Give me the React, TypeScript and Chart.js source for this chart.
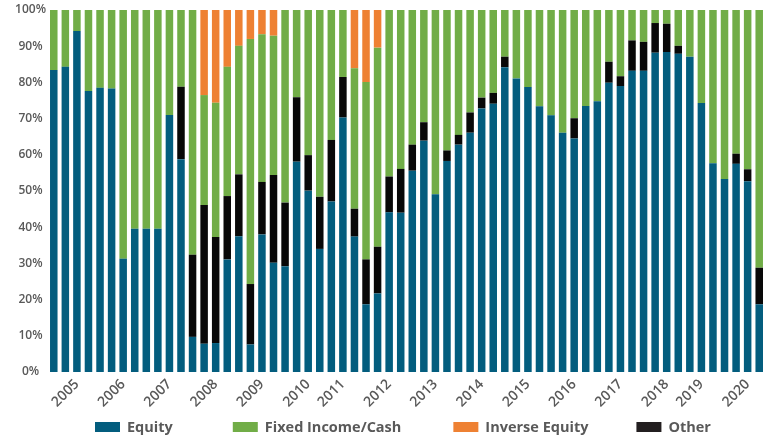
import React, { useEffect, useRef } from "react";
import { Chart, registerables } from "chart.js";

Chart.register(...registerables);

// Year tick labels and the bar index at which each one sits
const yearLabels = ["2005","2006","2007","2008","2009","2010","2011","2012","2013","2014","2015","2016","2017","2018","2019","2020"];
const yearTickIndex = [2, 6, 10, 14, 18, 22, 25, 29, 33, 37, 41, 45, 49, 53, 56, 60];

const equity = [
  83.4, 84.3, 94.2, 77.6, 78.5, 78.3, 31.3, 39.6, 39.6, 39.6,
  71.0, 58.8, 9.7, 7.8, 8.0, 31.1, 37.5, 7.6, 38.0, 30.2,
  29.2, 58.1, 50.1, 34.0, 47.1, 70.3, 37.4, 18.7, 21.7, 44.1,
  44.0, 55.6, 63.9, 49.1, 58.3, 62.8, 66.1, 72.8, 74.1, 84.2,
  81.1, 78.7, 73.4, 70.9, 66.1, 64.5, 73.5, 74.8, 79.9, 79.0,
  83.2, 83.2, 88.2, 88.4, 87.9, 87.1, 74.3, 57.7, 53.3, 57.5,
  52.7, 18.7,
];
const other = [
  0, 0, 0, 0, 0, 0, 0, 0, 0, 0,
  0, 20.0, 22.7, 38.3, 29.3, 17.5, 17.1, 16.7, 14.5, 24.2,
  17.6, 17.8, 9.8, 14.4, 17.0, 11.2, 7.7, 12.4, 12.9, 9.9,
  12.1, 7.2, 5.1, 0, 2.9, 2.7, 5.6, 3.0, 3.0, 2.9,
  0, 0, 0, 0, 0, 5.6, 0, 0, 5.8, 2.7,
  8.4, 8.0, 8.2, 7.8, 2.2, 0, 0, 0, 0, 2.8,
  3.3, 10.1,
];
const fixedIncome = [
  16.6, 15.7, 5.8, 22.4, 21.5, 21.7, 68.7, 60.4, 60.4, 60.4,
  29.0, 21.2, 67.6, 30.4, 37.1, 35.7, 35.5, 67.7, 40.8, 38.5,
  53.2, 24.1, 40.1, 51.6, 35.9, 18.5, 38.8, 49.0, 55.0, 46.0,
  43.9, 37.2, 31.0, 50.9, 38.8, 34.5, 28.3, 24.2, 22.9, 12.9,
  18.9, 21.3, 26.6, 29.1, 33.9, 29.9, 26.5, 25.2, 14.3, 18.3,
  8.4, 8.8, 3.6, 3.8, 9.9, 12.9, 25.7, 42.3, 46.7, 39.7,
  44.0, 71.2,
];
const inverseEquity = [
  0, 0, 0, 0, 0, 0, 0, 0, 0, 0,
  0, 0, 0, 23.5, 25.6, 15.7, 9.9, 8.0, 6.7, 7.1,
  0, 0, 0, 0, 0, 0, 16.1, 19.9, 10.4, 0,
  0, 0, 0, 0, 0, 0, 0, 0, 0, 0,
  0, 0, 0, 0, 0, 0, 0, 0, 0, 0,
  0, 0, 0, 0, 0, 0, 0, 0, 0, 0,
  0, 0,
];

const categories = equity.map((_, i) => {
  const k = yearTickIndex.indexOf(i);
  return k >= 0 ? yearLabels[k] : "";
});

const COLORS = {
  equity: "#035D7E",
  fixed: "#71AD47",
  inverse: "#EE8133",
  other: "#080808",
};
const TEXT = "#595959";
const FONT = "'Open Sans', sans-serif";

// legend order as displayed: Equity, Fixed Income/Cash, Inverse Equity, Other
const legendOrder = [0, 2, 3, 1];
const legendGaps = [60, 52, 48];
const legendBoxColors = ["#035D7E", "#71AD47", "#EE8133", "#231F20"];

const legendPlugin = {
  id: "customLegend",
  afterDraw(chart: any) {
    const ctx = chart.ctx as CanvasRenderingContext2D;
    ctx.save();
    ctx.font = `700 14.5px ${FONT}`;
    ctx.textBaseline = "middle";
    ctx.textAlign = "left";
    const y = chart.height - 11;
    let x = 95;
    legendOrder.forEach((dsIdx, i) => {
      const ds = chart.data.datasets[dsIdx];
      ctx.fillStyle = legendBoxColors[i];
      ctx.fillRect(x, y - 5, 25, 10);
      ctx.fillStyle = TEXT;
      ctx.fillText(ds.label, x + 32, y + 0.5);
      x += 32 + ctx.measureText(ds.label).width + (legendGaps[i] || 0);
    });
    ctx.restore();
  },
};

export default function App() {
  const ref = useRef<HTMLCanvasElement | null>(null);

  useEffect(() => {
    document.body.style.margin = "0";
    const canvas = ref.current;
    if (!canvas) return;
    const common = { barPercentage: 0.65, categoryPercentage: 1, borderWidth: 0, stack: "s" };
    const chart = new Chart(canvas, {
      type: "bar",
      data: {
        labels: categories,
        datasets: [
          { label: "Equity", data: equity, backgroundColor: COLORS.equity, ...common },
          { label: "Other", data: other, backgroundColor: COLORS.other, ...common },
          { label: "Fixed Income/Cash", data: fixedIncome, backgroundColor: COLORS.fixed, ...common },
          { label: "Inverse Equity", data: inverseEquity, backgroundColor: COLORS.inverse, ...common },
        ],
      },
      options: {
        animation: false,
        responsive: false,
        devicePixelRatio: 1,
        layout: { padding: { top: 10, bottom: 30, left: 0, right: 0 } },
        plugins: {
          legend: { display: false },
          tooltip: { enabled: false },
        },
        scales: {
          x: {
            stacked: true,
            grid: { display: false, drawTicks: false },
            border: { display: false },
            ticks: {
              autoSkip: false,
              maxRotation: 45,
              minRotation: 45,
              color: TEXT,
              padding: 4,
              font: { family: FONT, size: 14, weight: "600" },
            },
            afterFit: (scale: any) => {
              scale.height = 36;
              scale.paddingLeft = 0;
              scale.paddingRight = 0;
            },
          },
          y: {
            stacked: true,
            min: 0,
            max: 100,
            grid: { display: false, drawTicks: false },
            border: { display: false },
            ticks: {
              stepSize: 10,
              crossAlign: "center",
              padding: 2,
              color: TEXT,
              font: { family: FONT, size: 12, weight: "600" },
              callback: (v: any) => `${v}%`,
            },
            afterFit: (scale: any) => {
              scale.width = 48;
            },
          },
        },
      },
      plugins: [legendPlugin],
    });
    return () => chart.destroy();
  }, []);

  return <canvas ref={ref} width={765} height={438} style={{ display: "block" }} />;
}
